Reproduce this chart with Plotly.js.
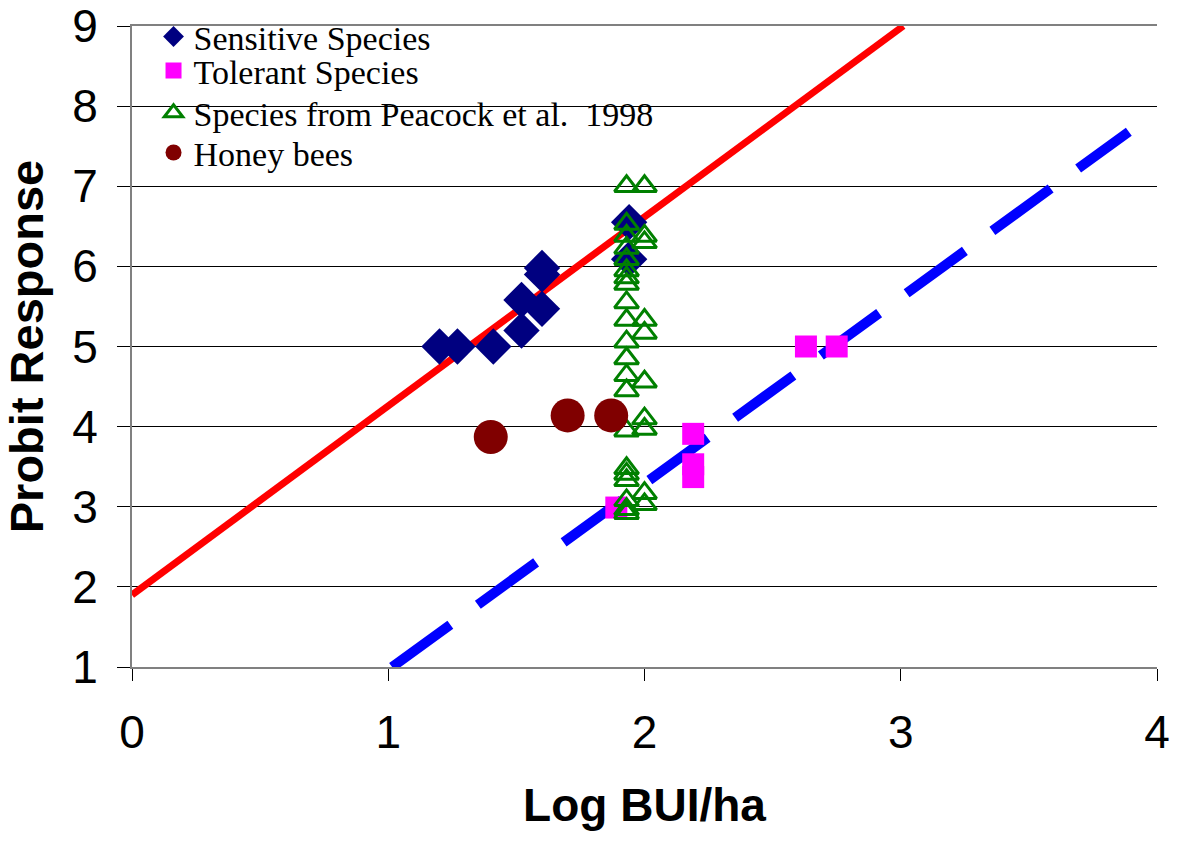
<!DOCTYPE html>
<html>
<head>
<meta charset="utf-8">
<script src="https://cdn.plot.ly/plotly-3.0.1.min.js"></script>
<style>html,body{margin:0;padding:0;background:#fff;}#chart{width:1177px;height:844px;}</style>
</head>
<body>
<div id="chart"></div>
<script>
// Sensitive species (navy diamonds)
const sensitiveX = [1.20, 1.27, 1.41, 1.52, 1.52, 1.60, 1.60, 1.60, 1.94, 1.94];
const sensitiveY = [5.00, 5.00, 5.00, 5.20, 5.58, 5.47, 5.98, 5.90, 6.55, 6.09];
// Tolerant species (magenta squares)
const tolerantX = [1.89, 2.19, 2.19, 2.19, 2.63, 2.75];
const tolerantY = [2.99, 3.91, 3.53, 3.37, 5.00, 5.00];
// Species from Peacock et al. 1998 (open green triangles)
const peacockX = [1.93, 1.93, 1.93, 1.93, 1.93, 1.93, 1.93, 1.93, 1.93, 1.93, 1.93,
                  1.93, 1.93, 1.93, 1.93, 1.93, 1.93, 1.93, 1.93, 1.93, 1.93,
                  2.00, 2.00, 2.00, 2.00, 2.00, 2.00, 2.00, 2.00, 2.00, 2.00];
const peacockY = [7.00, 6.53, 6.38, 6.23, 6.09, 5.95, 5.86, 5.78, 5.55, 5.33, 5.06,
                  4.85, 4.64, 4.45, 3.95, 3.48, 3.41, 3.33, 3.08, 2.97, 2.92,
                  7.00, 6.38, 6.30, 5.33, 5.17, 4.56, 4.10, 3.97, 3.17, 3.03];
// Honey bees (maroon circles)
const beesX = [1.40, 1.70, 1.87];
const beesY = [3.87, 4.14, 4.14];
// Fitted lines
const sensLineX = [0, 3.01];
const sensLineY = [1.90, 9.00];
const tolLineX = [1.015, 3.89];
const tolLineY = [1.00, 7.68];

const tickVals = [0, 1, 2, 3, 4];
const yTickVals = [1, 2, 3, 4, 5, 6, 7, 8, 9];

const sans = 'Liberation Sans, Arial, sans-serif';
const serif = 'Liberation Serif, Times New Roman, serif';

const traces = [
  {x: sensLineX, y: sensLineY, mode: 'lines', line: {color: '#FF0000', width: 7}, showlegend: false, hoverinfo: 'skip'},
  {x: tolLineX, y: tolLineY, mode: 'lines', line: {color: '#0000FF', width: 10, dash: '72px,34px'}, showlegend: false, hoverinfo: 'skip'},
  {x: sensitiveX, y: sensitiveY, mode: 'markers', name: 'Sensitive Species', legend: 'legend',
   marker: {symbol: 'diamond', size: 28, color: '#000080'}},
  {x: tolerantX, y: tolerantY, mode: 'markers', name: 'Tolerant Species', legend: 'legend2',
   marker: {symbol: 'square', size: 22, color: '#FF00FF'}},
  {x: peacockX, y: peacockY, mode: 'markers', name: 'Species from Peacock et al.  1998', legend: 'legend3',
   marker: {symbol: 'triangle-up-open', size: 21, color: '#008000', line: {width: 3, color: '#008000'}}},
  {x: beesX, y: beesY, mode: 'markers', name: 'Honey bees', legend: 'legend4',
   marker: {symbol: 'circle', size: 34, color: '#800000'}}
];

function leg(yc) {
  return {x: 0.021, y: yc, xanchor: 'left', yanchor: 'middle', bgcolor: 'rgba(0,0,0,0)',
          font: {family: serif, size: 34, color: '#000'}};
}

const layout = {
  width: 1177, height: 844,
  margin: {l: 132, r: 20, t: 26, b: 177, autoexpand: false},
  paper_bgcolor: '#fff', plot_bgcolor: '#fff',
  showlegend: true,
  legend: leg(0.983),
  legend2: leg(0.930),
  legend3: leg(0.864),
  legend4: leg(0.802),
  xaxis: {
    range: [0, 4], tickvals: tickVals, ticktext: tickVals.map(String),
    automargin: false,
    showgrid: false, zeroline: false,
    showline: true, linecolor: '#808080', linewidth: 2, mirror: true,
    ticks: 'outside', ticklen: 12, tickcolor: '#000', tickwidth: 1,
    ticklabelstandoff: 12,
    tickfont: {family: sans, size: 46, color: '#000'},
    title: {text: 'Log BUI/ha', font: {family: sans, size: 46, color: '#000', weight: 'bold'}, standoff: 32}
  },
  yaxis: {
    range: [1, 9], tickvals: yTickVals, ticktext: yTickVals.map(String),
    automargin: false,
    showgrid: true, gridcolor: '#000', gridwidth: 1, zeroline: false,
    showline: true, linecolor: '#808080', linewidth: 2,
    ticks: 'outside', ticklen: 13, tickcolor: '#000', tickwidth: 1,
    ticklabelstandoff: 10, ticklabeloverflow: 'allow',
    tickfont: {family: sans, size: 46, color: '#000'},
    title: {text: 'Probit Response', font: {family: sans, size: 47, color: '#000', weight: 'bold'}, standoff: 31}
  }
};

Plotly.newPlot('chart', traces, layout, {displayModeBar: false, staticPlot: true});
</script>
</body>
</html>
